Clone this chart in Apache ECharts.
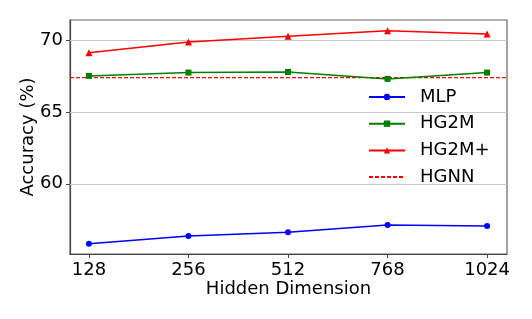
<!DOCTYPE html>
<html><head><meta charset="utf-8">
<script src="https://cdn.jsdelivr.net/npm/echarts@6/dist/echarts.min.js"></script>
<style>html,body{margin:0;padding:0;background:#fff}#c{width:532px;height:319px}</style>
</head><body><div id="c"></div>
<script>
const categories = ['128', '256', '512', '768', '1024'];
const mlp = [55.82, 56.36, 56.61, 57.12, 57.05];
const hg2m = [67.53, 67.76, 67.80, 67.32, 67.76];
const hg2mPlus = [69.15, 69.90, 70.29, 70.68, 70.45];
const hgnn = 67.41;
const yTicks = [60, 65, 70];

const FONT = 'DejaVu Sans';
const FS = 18;
const RED = '#ff0000';
const X_MIN = -0.19, X_MAX = 4.2;
const pts = arr => arr.map((v, i) => [i, v]);
const chart = echarts.init(document.getElementById('c'), null, {renderer: 'canvas'});
chart.setOption({
  backgroundColor: '#fff',
  animation: false,
  textStyle: {fontFamily: FONT},
  grid: {left: 70, right: 25, top: 20, bottom: 65, show: true, borderColor: '#666', borderWidth: 1.2, containLabel: false},
  legend: {
    orient: 'vertical', left: 363, top: 83, itemWidth: 36, itemHeight: 8, itemGap: 8.7,
    textStyle: {fontFamily: FONT, fontSize: FS, color: '#000', lineHeight: 18, padding: [0, 0, 0, 10]},
    data: ['MLP', 'HG2M', 'HG2M+', {name: 'HGNN', itemStyle: {opacity: 0}}]
  },
  xAxis: {
    type: 'value', min: X_MIN, max: X_MAX,
    name: 'Hidden Dimension', nameLocation: 'middle', nameGap: 26, nameMoveOverlap: false,
    nameTextStyle: {fontFamily: FONT, fontSize: FS, color: '#000'},
    axisLine: {show: true, onZero: false, lineStyle: {color: '#444', width: 1.2}},
    axisTick: {show: true, length: 4, customValues: [0, 1, 2, 3, 4], lineStyle: {color: '#444'}},
    axisLabel: {customValues: [0, 1, 2, 3, 4], fontFamily: FONT, fontSize: FS, color: '#000', margin: 7,
      formatter: v => categories[Math.round(v)]},
    splitLine: {show: false}
  },
  yAxis: {
    type: 'value', min: 55.1, max: 71.43,
    name: 'Accuracy (%)', nameLocation: 'middle', nameGap: 33, nameRotate: 90, nameMoveOverlap: false,
    nameTextStyle: {fontFamily: FONT, fontSize: FS, color: '#000'},
    axisLine: {show: true, onZero: false, lineStyle: {color: '#444', width: 1.2}},
    axisTick: {show: true, length: 4, customValues: yTicks, lineStyle: {color: '#444'}},
    axisLabel: {customValues: yTicks, fontFamily: FONT, fontSize: FS, color: '#000', margin: 7},
    splitLine: {show: false}
  },
  series: [
    {name: 'MLP', type: 'line', data: pts(mlp), symbol: 'circle', symbolSize: 6, color: '#0000ff',
      lineStyle: {width: 1.5}, z: 5,
      markLine: {silent: true, symbol: 'none', label: {show: false}, lineStyle: {color: '#c8c8c8', type: 'solid', width: 1}, z: 1,
        data: yTicks.map(t => ({yAxis: t}))}},
    {name: 'HG2M', type: 'line', data: pts(hg2m), symbol: 'rect', symbolSize: 6, color: '#008000',
      lineStyle: {width: 1.5}, z: 5},
    {name: 'HG2M+', type: 'line', data: pts(hg2mPlus), symbol: 'triangle', symbolSize: 7, color: RED,
      lineStyle: {width: 1.5}, z: 5},
    {name: 'HGNN', type: 'line', data: [[X_MIN, hgnn], [X_MAX, hgnn]], symbol: 'none', color: RED,
      lineStyle: {width: 1.2, type: [4, 2], color: RED}, z: 4}
  ]
});
</script></body></html>
